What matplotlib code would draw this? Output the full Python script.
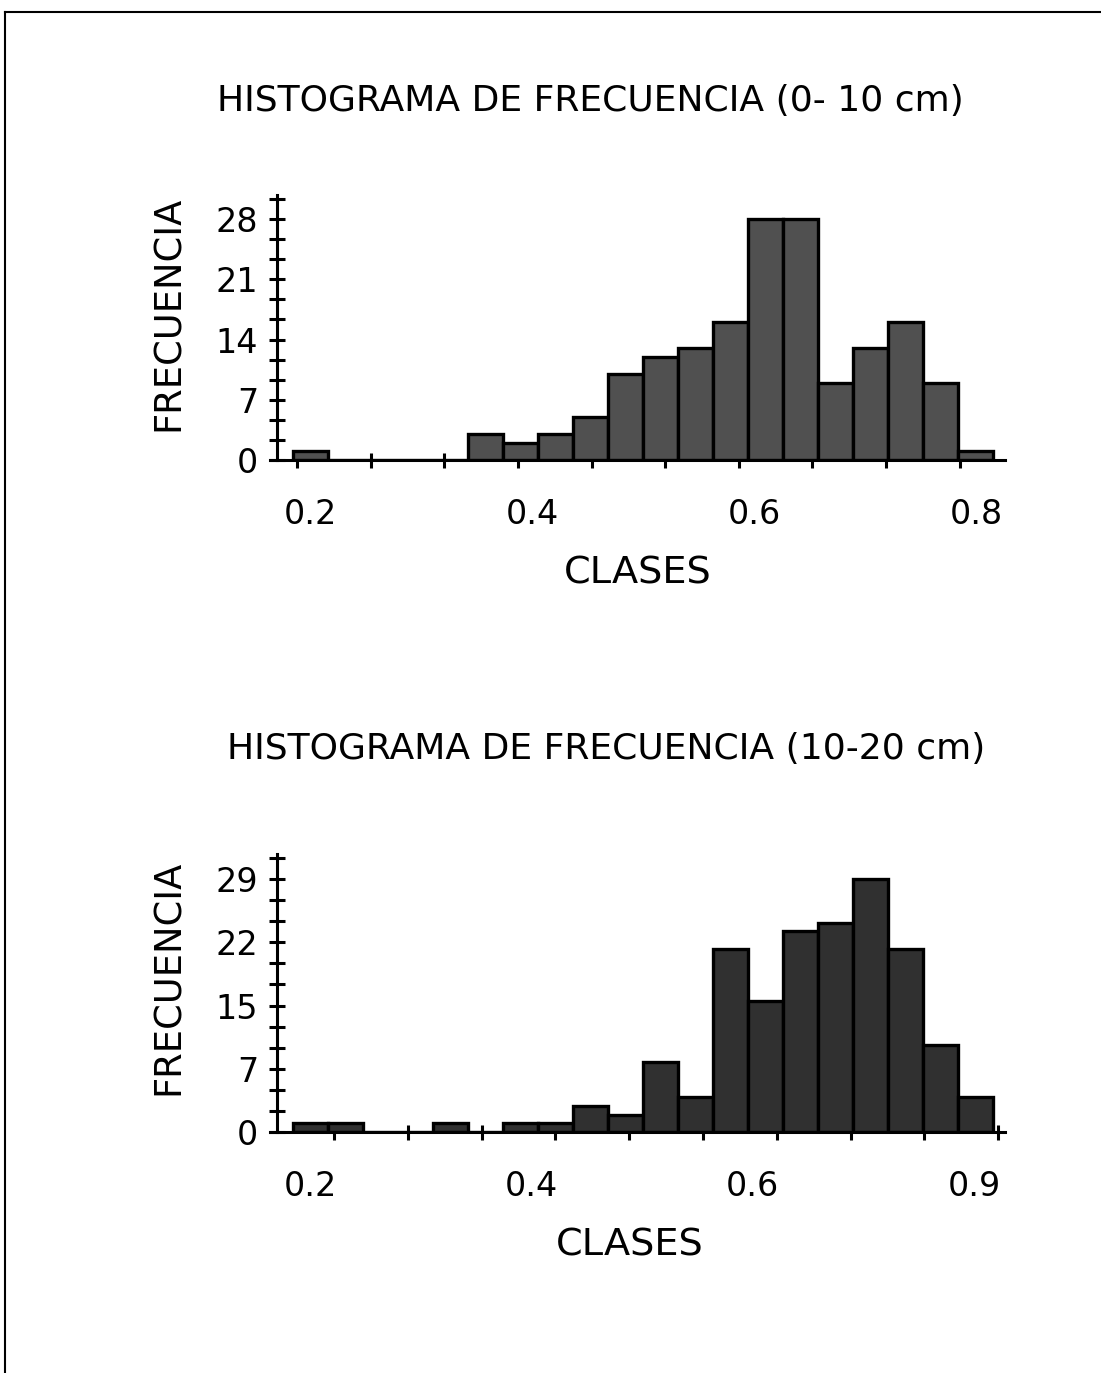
import numpy as np
import matplotlib
matplotlib.use("Agg")
import matplotlib.pyplot as plt
from matplotlib.lines import Line2D
from matplotlib.ticker import FixedLocator, FuncFormatter

# frecuencias por clase (20 clases cada histograma)
frec_0_10 = [1, 0, 0, 0, 0, 3, 2, 3, 5, 10, 12, 13, 16, 28, 28, 9, 13, 16, 9, 1]
frec_10_20 = [1, 1, 0, 0, 1, 0, 1, 1, 3, 2, 8, 4, 21, 15, 23, 24, 29, 21, 10, 4]

# limites de las clases
clase_min_0_10, clase_max_0_10 = 0.1847, 0.8153
clase_min_10_20, clase_max_10_20 = 0.1521, 0.8902

# etiquetas de los ejes
etiq_x_0_10 = [0.2, 0.4, 0.6, 0.8]
etiq_x_10_20 = [0.17, 0.4033, 0.6367, 0.87]   # se muestran redondeadas
etiq_y_0_10 = [0, 7, 14, 21, 28]
etiq_y_10_20 = [0, 7.25, 14.5, 21.75, 29]

titulos = ["HISTOGRAMA DE FRECUENCIA (0- 10 cm)",
           "HISTOGRAMA DE FRECUENCIA (10-20 cm)"]

W, H = 1101, 1373
plt.rcParams["font.family"] = "DejaVu Sans"

fig = plt.figure(figsize=(W / 100, H / 100), dpi=100)


def fx(px):
    return px / W


def fy(py):
    return 1 - py / H


def histograma(y_eje, y_tope, frec, cmin, cmax, xlim, x_spine, marcas_x,
               etiq_x, etiq_y, marcas_y, ylim_top, color):
    # 1 fila de ejes, en pixeles de la figura
    ax = fig.add_axes([fx(270), fy(y_eje), (1005 - 270) / W, (y_eje - y_tope) / H])
    bordes = np.linspace(cmin, cmax, len(frec) + 1)
    ax.bar(bordes[:-1], frec, width=np.diff(bordes), align="edge",
           color=color, edgecolor="black", linewidth=2.4)
    ax.set_xlim(*xlim)
    ax.set_ylim(0, ylim_top)
    ax.set_axisbelow(True)
    for s in ["top", "right"]:
        ax.spines[s].set_visible(False)
    ax.spines["left"].set_position(("data", x_spine))
    ax.spines["left"].set_linewidth(2.2)
    ax.spines["bottom"].set_linewidth(2.2)

    # eje x: etiquetas sin marca, marcas sin etiqueta
    ax.xaxis.set_major_locator(FixedLocator(etiq_x))
    ax.xaxis.set_major_formatter(FuncFormatter(lambda v, p: f"{v:.1f}"))
    ax.xaxis.set_minor_locator(FixedLocator(marcas_x))
    ax.tick_params(axis="x", which="major", length=0, pad=27, labelsize=24)
    ax.tick_params(axis="x", which="minor", direction="inout", length=10.8,
                   width=2.2, color="black")

    # eje y
    ax.yaxis.set_major_locator(FixedLocator(etiq_y))
    ax.yaxis.set_major_formatter(FuncFormatter(lambda v, p: f"{int(v + 0.5)}"))
    ax.yaxis.set_minor_locator(FixedLocator(marcas_y))
    ax.tick_params(axis="y", which="both", direction="inout", length=12.2,
                   width=2.2, pad=7.5, labelsize=24)
    return ax


histograma(460, 195, frec_0_10, clase_min_0_10, clase_max_0_10,
           (0.1640, 0.8261), 0.1703,
           0.1883 + 0.06634 * np.arange(10),
           etiq_x_0_10, etiq_y_0_10, np.arange(14) * 7 / 3, 30.79, "#505050")

histograma(1132, 854, frec_10_20, clase_min_10_20, clase_max_10_20,
           (0.1278, 0.9028), 0.1352,
           0.1953 + 0.0778 * np.arange(10),
           etiq_x_10_20, etiq_y_10_20, np.arange(14) * 29 / 12, 31.87, "#303030")

# textos
fig.text(fx(590), fy(101), titulos[0], ha="center", va="center", fontsize=26)
fig.text(fx(606), fy(749), titulos[1], ha="center", va="center", fontsize=26)
fig.text(fx(168), fy(313), "FRECUENCIA", rotation=90, ha="center", va="center", fontsize=26.5)
fig.text(fx(168), fy(977), "FRECUENCIA", rotation=90, ha="center", va="center", fontsize=26.5)
fig.text(fx(638), fy(574), "CLASES", ha="center", va="center", fontsize=27.5)
fig.text(fx(630), fy(1246), "CLASES", ha="center", va="center", fontsize=27.5)

# marco
fig.add_artist(Line2D([fx(5), 1], [fy(12), fy(12)], transform=fig.transFigure,
                      color="black", linewidth=1.5))
fig.add_artist(Line2D([fx(5), fx(5)], [fy(12), 0], transform=fig.transFigure,
                      color="black", linewidth=1.5))

fig.savefig("out.png", dpi=100)
